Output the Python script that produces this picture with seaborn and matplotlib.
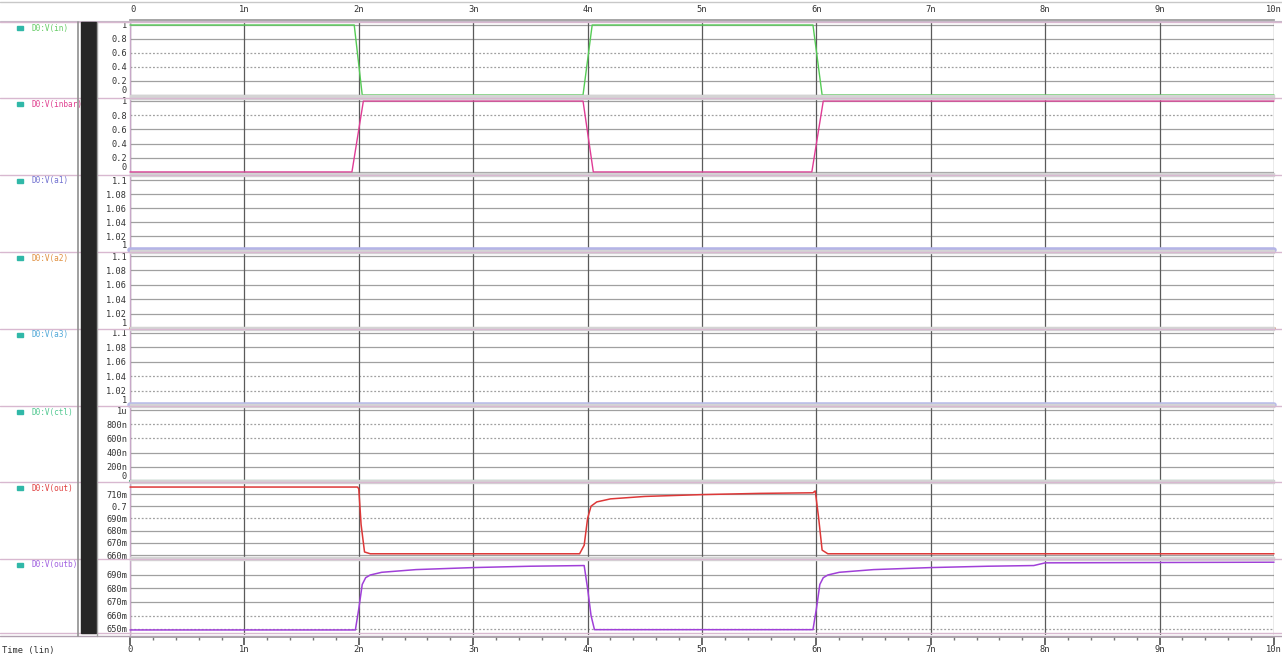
import matplotlib
matplotlib.use('Agg')
import matplotlib.pyplot as plt
from matplotlib.patches import Rectangle
from matplotlib.lines import Line2D
import seaborn as sns

sns.set_theme(style='white')
plt.rcParams['font.family'] = ['DejaVu Sans Mono', 'DejaVu Sans']

# ---------------- data (time in ns) ----------------
time_ticks = [0, 1, 2, 3, 4, 5, 6, 7, 8, 9, 10]
time_labels = ['0', '1n', '2n', '3n', '4n', '5n', '6n', '7n', '8n', '9n', '10n']

signal_names = ['D0:V(in)', 'D0:V(inbar)', 'D0:V(a1)', 'D0:V(a2)',
                'D0:V(a3)', 'D0:V(ctl)', 'D0:V(out)', 'D0:V(outb)']

t_in = [0, 1.96, 2.03, 3.96, 4.04, 5.97, 6.05, 10]
v_in = [1, 1, 0, 0, 1, 1, 0, 0]

t_inb = [0, 1.94, 2.04, 3.96, 4.05, 5.96, 6.06, 10]
v_inb = [0, 0, 1, 1, 0, 0, 1, 1]

t_const = [0, 10]
v_a1 = [1.0, 1.0]
v_a2 = [1.0, 1.0]
v_a3 = [1.0, 1.0]
v_ctl = [0.0, 0.0]

t_out = [0, 1.99, 2.0, 2.02, 2.05, 2.1, 3.93, 3.97, 4.0, 4.03, 4.08, 4.2,
         4.5, 5.0, 5.5, 5.97, 5.99, 6.02, 6.05, 6.1, 10]
v_out = [0.7157, 0.7157, 0.714, 0.685, 0.6625, 0.661, 0.661, 0.668, 0.690,
         0.700, 0.7035, 0.706, 0.708, 0.7095, 0.7105, 0.711, 0.7125, 0.690,
         0.664, 0.661, 0.661]

t_outb = [0, 1.97, 2.0, 2.03, 2.06, 2.1, 2.2, 2.5, 3.0, 3.5, 3.97, 4.0, 4.03,
          4.06, 5.97, 6.0, 6.03, 6.06, 6.1, 6.2, 6.5, 7.0, 7.5, 7.9, 8.0, 10]
v_outb = [0.6493, 0.6493, 0.665, 0.683, 0.688, 0.690, 0.692, 0.694, 0.6955,
          0.6965, 0.697, 0.680, 0.660, 0.6495, 0.6495, 0.665, 0.683, 0.688,
          0.690, 0.692, 0.694, 0.6955, 0.6965, 0.697, 0.699, 0.6995]

yticks_logic = [0, 0.2, 0.4, 0.6, 0.8, 1]
ylabels_logic = ['0', '0.2', '0.4', '0.6', '0.8', '1']
yticks_near1 = [1, 1.02, 1.04, 1.06, 1.08, 1.1]
ylabels_near1 = ['1', '1.02', '1.04', '1.06', '1.08', '1.1']
yticks_ctl = [0, 200e-9, 400e-9, 600e-9, 800e-9, 1e-6]
ylabels_ctl = ['0', '200n', '400n', '600n', '800n', '1u']
yticks_out = [0.66, 0.67, 0.68, 0.69, 0.70, 0.71]
ylabels_out = ['660m', '670m', '680m', '690m', '0.7', '710m']
yticks_outb = [0.65, 0.66, 0.67, 0.68, 0.69]
ylabels_outb = ['650m', '660m', '670m', '680m', '690m']

# ---------------- layout (pixels) ----------------
W, H = 1282, 657
X0, X1 = 130, 1274

def rect(x0, y0, x1, y1):
    return [x0 / W, 1 - y1 / H, (x1 - x0) / W, (y1 - y0) / H]

# panel: (top px, bottom px, value a, px a, value b, px b)
panels = [
    dict(t=t_in, v=v_in, c='#55cc55', lc='#66cc66', ticks=yticks_logic, labels=ylabels_logic,
         box=(22, 98), map=(1, 25, 0, 95), dotted=[0.4, 0.6], lw=1.0, lift=True),
    dict(t=t_inb, v=v_inb, c='#e03c96', lc='#e04090', ticks=yticks_logic, labels=ylabels_logic,
         box=(98, 175), map=(1, 101, 0, 172), dotted=[0.8], lw=1.0, lift=True),
    dict(t=t_const, v=v_a1, c='#b4b4e6', lc='#7070d0', ticks=yticks_near1, labels=ylabels_near1,
         box=(175, 252), map=(1.1, 180, 1.0, 250), dotted=[], lw=4.0, lift=True),
    dict(t=t_const, v=v_a2, c='#d8a47e', lc='#e09040', ticks=yticks_near1, labels=ylabels_near1,
         box=(252, 329), map=(1.1, 256, 1.0, 328), dotted=[], lw=2.2, lift=True),
    dict(t=t_const, v=v_a3, c='#b8bce8', lc='#50a8d8', ticks=yticks_near1, labels=ylabels_near1,
         box=(329, 406), map=(1.1, 333, 1.0, 405), dotted=[1.02, 1.04], lw=4.0, lift=True),
    dict(t=t_const, v=v_ctl, c='#40a070', lc='#50c890', ticks=yticks_ctl, labels=ylabels_ctl,
         box=(406, 482), map=(1e-6, 410, 0.0, 481), dotted=[600e-9, 800e-9], lw=1.6, lift=True),
    dict(t=t_out, v=v_out, c='#dd3838', lc='#e04040', ticks=yticks_out, labels=ylabels_out,
         box=(482, 559), map=(0.71, 494, 0.66, 555), dotted=[0.69], lw=1.1, lift=False),
    dict(t=t_outb, v=v_outb, c='#a040d8', lc='#a060e0', ticks=yticks_outb, labels=ylabels_outb,
         box=(559, 635), map=(0.69, 575, 0.65, 629), dotted=[0.65, 0.66], lw=1.1, lift=False),
]

fig = plt.figure(figsize=(W / 100, H / 100), dpi=100)
fig.patch.set_facecolor('white')

def fig_hline(y, x0, x1, color, lw=1.0, z=5):
    fig.add_artist(Line2D([x0 / W, x1 / W], [1 - y / H, 1 - y / H],
                          color=color, lw=lw, zorder=z, transform=fig.transFigure))

def fig_vline(x, y0, y1, color, lw=1.0, z=5):
    fig.add_artist(Line2D([x / W, x / W], [1 - y0 / H, 1 - y1 / H],
                          color=color, lw=lw, zorder=z, transform=fig.transFigure))

for i, p in enumerate(panels):
    top, bot = p['box']
    va, ya, vb, yb = p['map']
    k = (vb - va) / (yb - ya)
    ylo = va + (bot - ya) * k
    yhi = va + (top - ya) * k
    ax = fig.add_axes(rect(X0, top, X1, bot))
    ax.set_facecolor('none')
    ax.set_xlim(0, 10)
    ax.set_ylim(ylo, yhi)
    for s in ['top', 'right', 'bottom']:
        ax.spines[s].set_visible(False)
    ax.spines['left'].set_color('#c8a8c8')
    ax.spines['left'].set_linewidth(1.0)
    ax.set_xticks(time_ticks)
    ax.tick_params(axis='x', bottom=False, labelbottom=False)
    ax.set_yticks(p['ticks'], p['labels'])
    ax.tick_params(axis='y', direction='in', length=3, width=0.8, color='#b090b0',
                   labelsize=6.2, labelcolor='#333333', pad=2)
    ax.minorticks_on()
    ax.tick_params(axis='y', which='minor', direction='in', length=2, color='#c0a0c0')
    ax.tick_params(axis='x', which='minor', bottom=False)
    if p['lift']:
        ax.get_yticklabels()[0].set_va('bottom')
    # grid
    for tv in p['ticks']:
        ls = (0, (1.5, 1.5)) if tv in p['dotted'] else '-'
        ax.axhline(tv, color='#a0a0a0', lw=0.9, ls=ls, zorder=1)
    for tv in time_ticks:
        ax.axvline(tv, color='#5a5a5a', lw=0.9, zorder=2)
    sns.lineplot(x=p['t'], y=p['v'], ax=ax, color=p['c'], lw=p['lw'],
                 estimator=None, sort=False, zorder=4, clip_on=False)
    ax.set_xlabel('')
    ax.set_ylabel('')
    # signal name at the left
    fig.text(31 / W, 1 - (top + 6) / H, signal_names[i], color=p['lc'],
             fontsize=5.6, va='center', ha='left')
    fig.add_artist(Rectangle((17 / W, 1 - (top + 8) / H), 6 / W, 4 / H,
                             transform=fig.transFigure, color='#30b8a8', zorder=6))
    # separators
    fig_hline(top, 0, W, '#d8b8d0', lw=1.0, z=3)

# band separators in plot area
for y in [97, 174, 251, 328, 405, 481, 558]:
    fig.add_artist(Rectangle((X0 / W, 1 - (y + 1.5) / H), (X1 - X0) / W, 3 / H,
                             transform=fig.transFigure, color='#d4d4d4', zorder=0.5))
fig_hline(633, 0, W, '#d8b8d0', lw=1.0)
fig_hline(636, 0, W, '#b0a0b0', lw=1.0)

# dark vertical bar left of the value scale
fig.add_artist(Rectangle((81 / W, 1 - 633 / H), 15 / W, (633 - 22) / H,
                         transform=fig.transFigure, color='#262626', zorder=6))
fig_vline(78, 22, 636, '#909090', lw=1.2, z=6)
fig_vline(97, 22, 636, '#a0a0a0', lw=1.0, z=6)

# top time axis
axt = fig.add_axes(rect(X0, 1, X1, 20))
axt.set_facecolor('none')
axt.set_xlim(0, 10)
axt.set_ylim(0, 1)
for s in ['top', 'right', 'left']:
    axt.spines[s].set_visible(False)
axt.spines['bottom'].set_color('#9a9a9a')
axt.set_yticks([])
axt.set_xticks(time_ticks, [''] * len(time_ticks))
axt.set_xticks([x / 5 for x in range(51)], minor=True)
axt.tick_params(axis='x', which='major', direction='in', length=6, color='#555555')
axt.tick_params(axis='x', which='minor', direction='in', length=2.5, color='#777777')
for tv, tl in zip(time_ticks, time_labels):
    axt.text(tv, 0.55, tl, fontsize=6.3, color='#333333', ha='left' if tv == 0 else 'center',
             va='center')
fig_hline(2, 0, W, '#c8c8c8', lw=1.0)
fig_hline(20.5, 0, W, '#c8b8c8', lw=0.8)

# bottom time axis
axb = fig.add_axes(rect(X0, 637, X1, 657))
axb.set_facecolor('none')
axb.set_xlim(0, 10)
axb.set_ylim(0, 1)
for s in ['bottom', 'right', 'left']:
    axb.spines[s].set_visible(False)
axb.spines['top'].set_color('#9a9a9a')
axb.set_yticks([])
axb.xaxis.set_ticks_position('top')
axb.set_xticks(time_ticks, [''] * len(time_ticks))
axb.set_xticks([x / 5 for x in range(51)], minor=True)
axb.tick_params(axis='x', which='major', direction='in', length=6, color='#555555')
axb.tick_params(axis='x', which='minor', direction='in', length=2.5, color='#777777')
for tv, tl in zip(time_ticks, time_labels):
    axb.text(tv, 0.35, tl, fontsize=6.3, color='#333333', ha='center', va='center')
fig.text(2 / W, 1 - 651 / H, 'Time (lin)', fontsize=6.3, color='#333333',
         ha='left', va='center')

fig.savefig('out.png', dpi=100, facecolor='white')
